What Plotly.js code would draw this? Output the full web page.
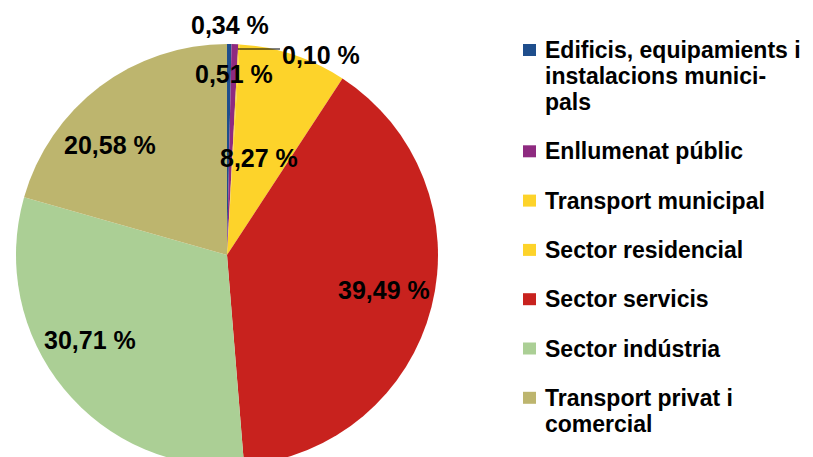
<!DOCTYPE html>
<html>
<head>
<meta charset="utf-8">
<script src="https://cdn.plot.ly/plotly-3.0.1.min.js"></script>
<style>
  html, body { margin: 0; padding: 0; overflow: hidden; background: #fff; }
  #chart { width: 813px; height: 470px; }
</style>
</head>
<body>
<div id="chart"></div>
<script>
// Consum d'energia per sector (%)
const sectors = [
    'Edificis, equipamients i<br>instalacions munici-<br>pals',
    'Enllumenat públic',
    'Transport municipal',
    'Sector residencial',
    'Sector servicis',
    'Sector indústria',
    'Transport privat i<br>comercial'
];
const shares = [0.34, 0.51, 0.10, 8.27, 39.49, 30.71, 20.58];
const colors = ['#1f4e8c', '#8e2a80', '#fdd32a', '#fdd32a', '#c8221e', '#abcf95', '#bdb56e'];

// percentage labels were placed by hand in the original, keep them there (page px)
const labelPos = [[230, 25], [234, 74], [321, 55], [259, 158], [384, 290], [90, 340], [110, 145]];

const W = 813, H = 470;
const px = x => x / W;
const py = y => 1 - y / H;

const fmt = v => v.toFixed(2).replace('.', ',') + ' %';
const boldFont = size => ({ family: 'Liberation Sans, Arial, sans-serif', size: size, color: '#000', weight: 'bold' });

// pie centre (227, 255), radius 211
const cx = 227, cy = 255, r = 211;

const annotations = [];
const shapes = [];

shares.forEach((v, i) => {
    annotations.push({
        xref: 'paper', yref: 'paper',
        x: px(labelPos[i][0]), y: py(labelPos[i][1]),
        xanchor: 'center', yanchor: 'middle',
        text: fmt(v), showarrow: false,
        font: boldFont(25)
    });
});

// leader line for the tiny 0,10 % slice
shapes.push({
    type: 'line', xref: 'paper', yref: 'paper',
    x0: px(238), y0: py(49), x1: px(280), y1: py(49),
    line: { color: '#000', width: 1 }
});

// hand-built legend (Excel spacing)
let ly = 50;
sectors.forEach((name, i) => {
    const lines = name.split('<br>');
    shapes.push({
        type: 'rect', xref: 'paper', yref: 'paper',
        x0: px(523), x1: px(536), y0: py(ly - 6), y1: py(ly + 6),
        fillcolor: colors[i], line: { width: 0 }
    });
    lines.forEach((txt, k) => {
        annotations.push({
            xref: 'paper', yref: 'paper',
            x: px(543), y: py(ly + k * 26),
            xanchor: 'left', yanchor: 'middle',
            text: txt, showarrow: false,
            font: boldFont(23)
        });
    });
    ly += (lines.length - 1) * 26 + 49.3;
});

Plotly.newPlot('chart', [{
    type: 'pie',
    values: shares,
    labels: sectors.map(s => s.replace(/<br>/g, ' ').replace('munici- pals', 'municipals')),
    marker: { colors: colors, line: { width: 0 } },
    sort: false,
    direction: 'clockwise',
    rotation: 0,
    textinfo: 'none',
    hoverinfo: 'label+percent',
    showlegend: false,
    domain: { x: [px(cx - r), px(cx + r)], y: [py(cy + r), py(cy - r)] }
}], {
    width: W,
    height: H,
    margin: { l: 0, r: 0, t: 0, b: 0 },
    paper_bgcolor: '#fff',
    showlegend: false,
    annotations: annotations,
    shapes: shapes
}, { displayModeBar: false, staticPlot: true });
</script>
</body>
</html>
